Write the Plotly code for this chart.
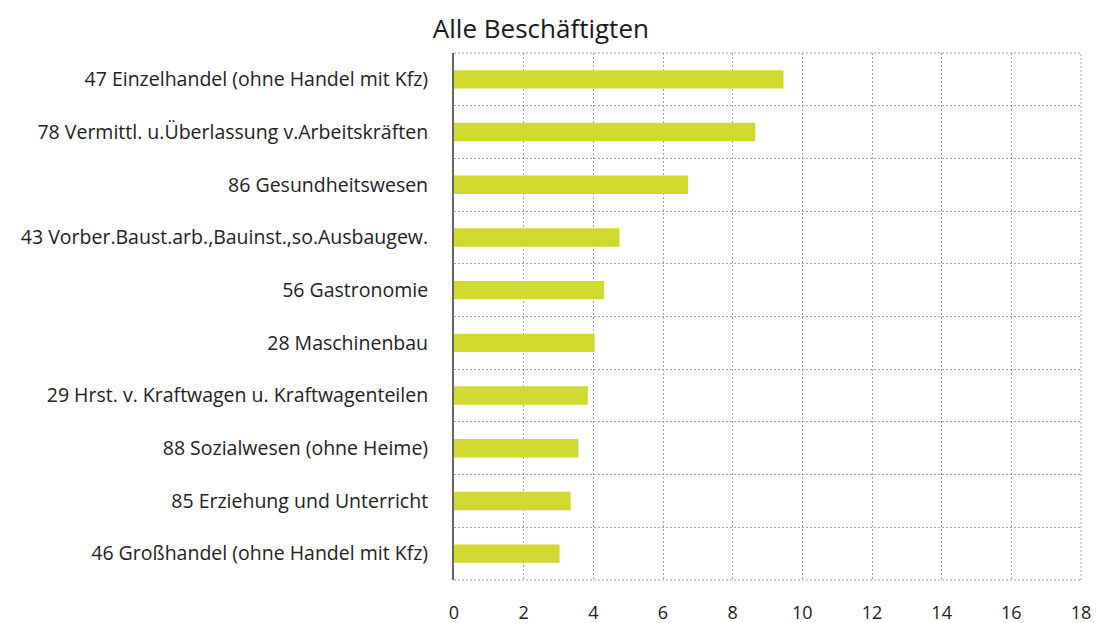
import plotly.graph_objects as go

# ─── Daten ───────────────────────────────────────────────────
branchen = [
    "47 Einzelhandel (ohne Handel mit Kfz)",
    "78 Vermittl. u.Überlassung v.Arbeitskräften",
    "86 Gesundheitswesen",
    "43 Vorber.Baust.arb.,Bauinst.,so.Ausbaugew.",
    "56 Gastronomie",
    "28 Maschinenbau",
    "29 Hrst. v. Kraftwagen u. Kraftwagenteilen",
    "88 Sozialwesen (ohne Heime)",
    "85 Erziehung und Unterricht",
    "46 Großhandel (ohne Handel mit Kfz)",
]
anteile = [9.46, 8.65, 6.72, 4.75, 4.31, 4.04, 3.84, 3.57, 3.35, 3.03]
x_ticks = [0, 2, 4, 6, 8, 10, 12, 14, 16, 18]

FONT = "'Open Sans', sans-serif"
GRIDCOL = "#a3a3a3"
DASH = "2px,2px"
GRID = dict(showgrid=True, gridcolor=GRIDCOL, gridwidth=1, griddash=DASH)

fig = go.Figure()
fig.add_trace(go.Bar(
    y=branchen, x=anteile, orientation="h",
    marker_color="#D1D82F", marker_line_width=0, width=0.35,
))

# Rahmen oben / rechts / unten gepunktet
for x0, y0, x1, y1 in [(0, 1, 1, 1), (1, 0, 1, 1), (0, 0, 1, 0)]:
    fig.add_shape(type="line", xref="paper", yref="paper", x0=x0, y0=y0, x1=x1, y1=y1,
                  line=dict(color=GRIDCOL, width=1, dash=DASH), layer="below")

# Seite hat 8px Rand -> Figur etwas kleiner
fig.update_layout(
    title=dict(text="Alle Beschäftigten", x=0.488, xanchor="center", y=0.966, yanchor="middle",
               font=dict(size=26, color="#1a1a1a", family=FONT)),
    paper_bgcolor="white", plot_bgcolor="white",
    width=1092, height=615,
    margin=dict(l=446, r=19, t=45, b=43),
    showlegend=False,
    font=dict(family=FONT, color="#222"),
    xaxis=dict(range=[0, 18], tickvals=x_ticks, zeroline=False, tickfont=dict(size=18),
               ticks="", ticklabelstandoff=20, automargin=False, **GRID),
    yaxis=dict(type="category", range=[9.5, -0.5], tickson="boundaries", ticks="",
               tickfont=dict(size=19.5), ticklabelstandoff=20, automargin=False,
               showline=True, linecolor="#666", linewidth=2, **GRID),
)

fig.write_html("out.html")
